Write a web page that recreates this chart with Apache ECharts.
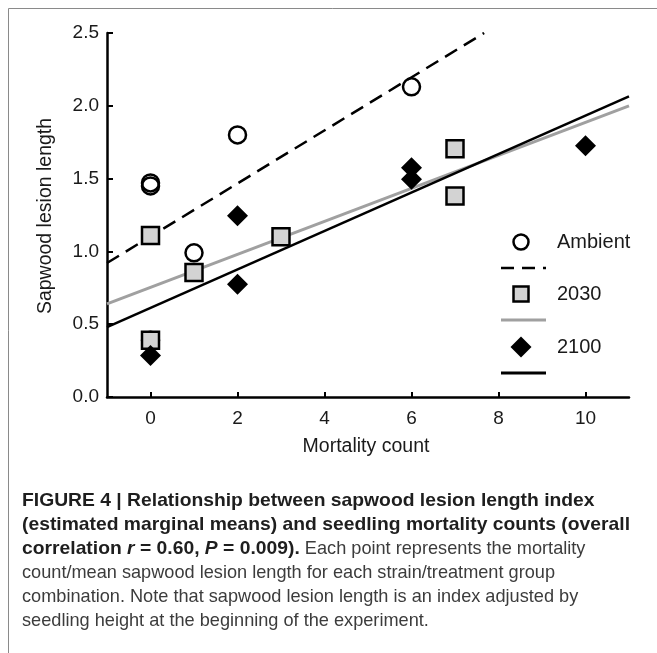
<!DOCTYPE html>
<html><head><meta charset="utf-8">
<script src="https://cdn.jsdelivr.net/npm/echarts@6/dist/echarts.min.js"></script>
<style>html,body{margin:0;padding:0;background:#fff}#c{width:657px;height:653px}</style>
</head><body><div id="c"></div>
<script>
// ---- data ----
const xTicks = [0, 2, 4, 6, 8, 10];
const ambientPts = [[0, 1.47], [0, 1.45], [0, 0.39], [1, 0.99], [2, 1.80], [6, 2.13]];
const pts2030 = [[0, 1.11], [0, 0.39], [1, 0.855], [3, 1.10], [7, 1.705], [7, 1.38]];
const pts2100 = [[0, 0.285], [2, 1.245], [2, 0.775], [6, 1.575], [6, 1.495], [10, 1.725]];
const fitAmbient = [[-1, 0.92], [7.67, 2.5]];
const fit2030 = [[-1, 0.64], [11, 2.0]];
const fit2100 = [[-1, 0.48], [11, 2.065]];
const legendNames = ['Ambient', '2030', '2100'];
const xTitle = 'Mortality count';
const yTitle = 'Sapwood lesion length';
const captionLines = [
  [['FIGURE 4 | Relationship between sapwood lesion length index', 'b']],
  [['(estimated marginal means) and seedling mortality counts (overall', 'b']],
  [['correlation ', 'b'], ['r', 'bi'], [' = 0.60, ', 'b'], ['P', 'bi'], [' = 0.009).', 'b'], [' Each point represents the mortality', 'r']],
  [['count/mean sapwood lesion length for each strain/treatment group', 'r']],
  [['combination. Note that sapwood lesion length is an index adjusted by', 'r']],
  [['seedling height at the beginning of the experiment.', 'r']]
];

// ---- chart ----
const FAM = '"Liberation Sans", Arial, Helvetica, sans-serif';
const chart = echarts.init(document.getElementById('c'), null, {renderer: 'canvas'});

const ctx = document.createElement('canvas').getContext('2d');
const capSize = 18.5;
const fonts = {
  b: 'bold ' + capSize + 'px ' + FAM,
  bi: 'italic bold ' + capSize + 'px ' + FAM,
  r: capSize + 'px ' + FAM
};
function measure(t, s) { ctx.font = fonts[s]; return ctx.measureText(t).width; }
const sB = 608 / measure(captionLines[1][0][0], 'b');
const sR = 533 / measure(captionLines[3][0][0], 'r');

const graphics = [];
// frame
graphics.push({type: 'polyline', shape: {points: [[8.5, 653], [8.5, 8.5], [657, 8.5]]},
  style: {stroke: '#8a8a8a', lineWidth: 1, fill: null}, silent: true});
// axis titles
graphics.push({type: 'text', x: 46, y: 216, rotation: Math.PI / 2,
  style: {text: yTitle, font: '19.5px ' + FAM, fill: '#1a1a1a', align: 'center', verticalAlign: 'middle'}});
graphics.push({type: 'text', x: 366, y: 447,
  style: {text: xTitle, font: '19.5px ' + FAM, fill: '#1a1a1a', align: 'center', verticalAlign: 'middle'}});
// caption
const capY0 = 501, capDY = 24, capX = 22;
captionLines.forEach((line, i) => {
  let cx = capX;
  line.forEach(([t, s]) => {
    const sc = s === 'r' ? sR : sB;
    graphics.push({type: 'text', x: cx, y: capY0 + i * capDY, scaleX: sc, originX: 0, originY: 0,
      style: {text: t, font: fonts[s], fill: s === 'r' ? '#3c3c3c' : '#1e1e1e', align: 'left', verticalAlign: 'middle'}});
    cx += measure(t, s) * sc;
  });
});
// legend
const lgX = 521, lgTx = 557, lgL1 = 501, lgL2 = 546, lgFont = '20px ' + FAM;
graphics.push({type: 'circle', shape: {cx: lgX, cy: 242, r: 7.5}, style: {fill: '#fff', stroke: '#000', lineWidth: 2.5}});
graphics.push({type: 'text', x: lgTx, y: 242, style: {text: legendNames[0], font: lgFont, fill: '#1a1a1a', verticalAlign: 'middle'}});
graphics.push({type: 'line', shape: {x1: lgL1, y1: 268, x2: lgL2, y2: 268}, style: {stroke: '#000', lineWidth: 2.5, lineDash: [13, 8]}});
graphics.push({type: 'rect', shape: {x: lgX - 7.5, y: 294 - 7.5, width: 15, height: 15}, style: {fill: '#d3d3d3', stroke: '#000', lineWidth: 2.5}});
graphics.push({type: 'text', x: lgTx, y: 294, style: {text: legendNames[1], font: lgFont, fill: '#1a1a1a', verticalAlign: 'middle'}});
graphics.push({type: 'line', shape: {x1: lgL1, y1: 320, x2: lgL2, y2: 320}, style: {stroke: '#a0a0a0', lineWidth: 3}});
graphics.push({type: 'polygon', shape: {points: [[lgX, 347 - 10.5], [lgX + 10.5, 347], [lgX, 347 + 10.5], [lgX - 10.5, 347]]}, style: {fill: '#000'}});
graphics.push({type: 'text', x: lgTx, y: 347, style: {text: legendNames[2], font: lgFont, fill: '#1a1a1a', verticalAlign: 'middle'}});
graphics.push({type: 'line', shape: {x1: lgL1, y1: 373, x2: lgL2, y2: 373}, style: {stroke: '#000', lineWidth: 3}});

const axisLine = {show: true, onZero: false, lineStyle: {color: '#000', width: 2.5}};
chart.setOption({
  animation: false,
  backgroundColor: '#fff',
  grid: {left: 107, right: 28, top: 33, bottom: 256, containLabel: false},
  xAxis: {
    type: 'value', min: -1, max: 11,
    axisLine: axisLine,
    axisTick: {show: true, inside: true, length: 5, lineStyle: {color: '#000', width: 2}, customValues: xTicks},
    axisLabel: {show: true, customValues: xTicks, margin: 12, fontSize: 19, fontFamily: FAM, color: '#1a1a1a'},
    splitLine: {show: false}
  },
  yAxis: {
    type: 'value', min: 0, max: 2.5, interval: 0.5,
    axisLine: axisLine,
    axisTick: {show: true, inside: true, length: 6, lineStyle: {color: '#000', width: 2}},
    axisLabel: {show: true, margin: 8, fontSize: 19, fontFamily: FAM, color: '#1a1a1a', formatter: v => v.toFixed(1)},
    splitLine: {show: false}
  },
  series: [
    {type: 'line', data: fitAmbient, showSymbol: false, z: 1, lineStyle: {color: '#000', width: 2.5, type: [14, 8]}},
    {type: 'line', data: fit2030, showSymbol: false, z: 1, lineStyle: {color: '#a0a0a0', width: 3}},
    {type: 'line', data: fit2100, showSymbol: false, z: 1, lineStyle: {color: '#000', width: 2.5}},
    {type: 'scatter', name: legendNames[0], data: ambientPts, symbol: 'circle', symbolSize: 17, z: 3,
      itemStyle: {color: 'rgba(255,255,255,0)', borderColor: '#000', borderWidth: 2.5, opacity: 1}},
    {type: 'scatter', name: legendNames[1], data: pts2030, symbol: 'rect', symbolSize: 17, z: 4,
      itemStyle: {color: '#d3d3d3', borderColor: '#000', borderWidth: 2.5, opacity: 1}},
    {type: 'scatter', name: legendNames[2], data: pts2100, symbol: 'diamond', symbolSize: 21, z: 5,
      itemStyle: {color: '#000', opacity: 1}}
  ],
  graphic: graphics
});
</script></body></html>
